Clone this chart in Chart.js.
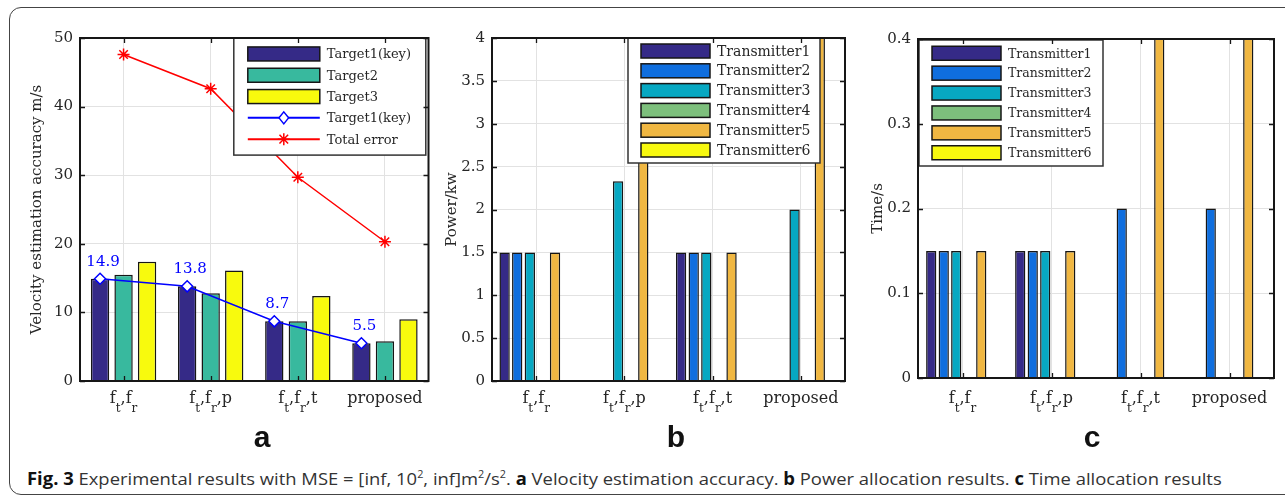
<!DOCTYPE html>
<html>
<head>
<meta charset="utf-8">
<script src="https://cdn.jsdelivr.net/npm/chart.js@4.4.1/dist/chart.umd.min.js"></script>
<style>
  body { margin: 0; background: #fff; width: 1285px; height: 497px; overflow: hidden; position: relative; }
  .frame { position: absolute; left: 9px; top: 7px; width: 1300px; height: 486px; border: 1.5px solid #444; border-radius: 12px; }
  canvas.panel { position: absolute; top: 22px; }
  .letter { position: absolute; top: 422px; font: bold 30px "Liberation Sans", Arial, sans-serif; line-height: 30px; color: #111; transform: translateX(-50%); }
  #caption { position: absolute; left: 27px; top: 470px; font: 17px "Open Sans", sans-serif; line-height: 17px; color: #333; white-space: nowrap; transform-origin: 0 0; }
  #caption b { color: #111; }
  #caption sup { font-size: 10px; line-height: 0; vertical-align: 7px; }
</style>
</head>
<body>
<div class="frame"></div>
<canvas id="chartA" class="panel" width="416" height="420" style="left:20px"></canvas>
<canvas id="chartB" class="panel" width="410" height="420" style="left:440px"></canvas>
<canvas id="chartC" class="panel" width="425" height="420" style="left:860px"></canvas>
<div class="letter" style="left:262px">a</div>
<div class="letter" style="left:676px">b</div>
<div class="letter" style="left:1092px">c</div>
<div id="caption"><b>Fig. 3</b> Experimental results with MSE = [inf, 10<sup>2</sup>, inf]m<sup>2</sup>/s<sup>2</sup>. <b>a</b> Velocity estimation accuracy. <b>b</b> Power allocation results. <b>c</b> Time allocation results</div>

<script>
// categories (an underscore marks a subscript letter)
const methods = ['f_t,f_r', 'f_t,f_r,p', 'f_t,f_r,t', 'proposed'];

// a: velocity estimation accuracy, m/s
const target1 = [14.9, 13.8, 8.7, 5.5];
const target2 = [15.5, 12.8, 8.7, 5.8];
const target3 = [17.4, 16.1, 12.4, 9.0];
const totalError = [47.6, 42.6, 29.7, 20.3];

// b: power allocation, kw (transmitter 5 runs past the top of the axis)
const powerT1 = [1.5, 0, 1.5, 0];
const powerT2 = [1.5, 0, 1.5, 0];
const powerT3 = [1.5, 2.33, 1.5, 2.0];
const powerT4 = [0, 0, 0, 0];
const powerT5 = [1.5, 4.5, 1.5, 4.5];
const powerT6 = [0, 0, 0, 0];

// c: time allocation, s
const timeT1 = [0.15, 0.15, 0, 0];
const timeT2 = [0.15, 0.15, 0.2, 0.2];
const timeT3 = [0.15, 0.15, 0, 0];
const timeT4 = [0, 0, 0, 0];
const timeT5 = [0.15, 0.15, 0.5, 0.5];
const timeT6 = [0, 0, 0, 0];

const SERIF = '"DejaVu Serif", "Liberation Serif", serif';
const INK = '#262626';
const GRID = '#e2e2e2';
const EDGE = '#161616';
const TX_COLORS = ['#352a87', '#0f6ede', '#07a8c2', '#7dbf7c', '#f0b742', '#f8f90f'];

function drawMarker(ctx, style, x, y, r, color) {
  ctx.save();
  ctx.strokeStyle = color;
  ctx.lineWidth = 1.5;
  ctx.beginPath();
  if (style === 'star') {
    const d = r * 0.72;
    ctx.moveTo(x - r, y); ctx.lineTo(x + r, y);
    ctx.moveTo(x, y - r); ctx.lineTo(x, y + r);
    ctx.moveTo(x - d, y - d); ctx.lineTo(x + d, y + d);
    ctx.moveTo(x - d, y + d); ctx.lineTo(x + d, y - d);
    ctx.stroke();
  } else {
    ctx.moveTo(x, y - r); ctx.lineTo(x + r * 0.8, y); ctx.lineTo(x, y + r); ctx.lineTo(x - r * 0.8, y); ctx.closePath();
    ctx.fillStyle = '#fff'; ctx.fill(); ctx.stroke();
  }
  ctx.restore();
}

function drawSubLabel(ctx, label, cx, baseline, size) {
  const parts = [];
  label.split(/(_\w)/).forEach(p => {
    if (!p) return;
    parts.push(p[0] === '_' ? { t: p.slice(1), sub: true } : { t: p, sub: false });
  });
  const main = size + 'px ' + SERIF, small = Math.round(size * 0.72) + 'px ' + SERIF;
  let w = 0;
  parts.forEach(p => { ctx.font = p.sub ? small : main; p.w = ctx.measureText(p.t).width; w += p.w; });
  let x = cx - w / 2;
  ctx.textAlign = 'left';
  ctx.textBaseline = 'alphabetic';
  parts.forEach(p => {
    ctx.font = p.sub ? small : main;
    ctx.fillText(p.t, x, baseline + (p.sub ? size * 0.55 : 0));
    x += p.w;
  });
}

// MATLAB-like box, inward ticks and subscripted category labels
const matlabAxes = {
  id: 'matlabAxes',
  afterDraw(chart, args, opts) {
    const { ctx, chartArea: ca, scales: { x, y } } = chart;
    ctx.save();
    ctx.strokeStyle = EDGE;
    ctx.lineWidth = 1.3;
    ctx.beginPath();
    y.ticks.forEach((t, i) => {
      const py = Math.round(y.getPixelForTick(i)) + 0.5;
      ctx.moveTo(ca.left, py); ctx.lineTo(ca.left + 5, py);
      ctx.moveTo(ca.right - 5, py); ctx.lineTo(ca.right, py);
    });
    x.ticks.forEach((t, i) => {
      const px = Math.round(x.getPixelForTick(i)) + 0.5;
      ctx.moveTo(px, ca.bottom); ctx.lineTo(px, ca.bottom - 5);
      ctx.moveTo(px, ca.top); ctx.lineTo(px, ca.top + 5);
    });
    ctx.stroke();
    ctx.lineWidth = 2;
    ctx.strokeRect(ca.left, ca.top, ca.width, ca.height);
    ctx.fillStyle = INK;
    chart.data.labels.forEach((lab, i) => {
      drawSubLabel(ctx, lab, x.getPixelForTick(i), ca.bottom + opts.labelGap, 16);
    });
    ctx.restore();
  }
};

// boxed legend inside the plot area
const boxLegend = {
  id: 'boxLegend',
  afterDatasetsDraw(chart, args, o) {
    const { ctx, chartArea: ca } = chart;
    const items = chart.data.datasets;
    const h = o.pad * 2 + items.length * o.row;
    const x = o.align === 'right' ? ca.right - o.dx - o.width : ca.left + o.dx;
    const y = ca.top + o.dy;
    ctx.save();
    ctx.fillStyle = '#fff';
    ctx.fillRect(x, y, o.width, h);
    ctx.strokeStyle = '#333';
    ctx.lineWidth = 1.5;
    ctx.strokeRect(x, y, o.width, h);
    ctx.font = o.fontSize + 'px ' + SERIF;
    ctx.textBaseline = 'middle';
    ctx.textAlign = 'left';
    items.forEach((ds, i) => {
      const cy = y + o.pad + o.row * (i + 0.5);
      const sx = x + o.swatchX;
      if (ds.type === 'line') {
        ctx.strokeStyle = ds.borderColor;
        ctx.lineWidth = 2;
        ctx.beginPath(); ctx.moveTo(sx, cy); ctx.lineTo(sx + o.swatchW, cy); ctx.stroke();
        drawMarker(ctx, ds.pointStyle, sx + o.swatchW / 2, cy, 6, ds.borderColor);
      } else {
        ctx.fillStyle = ds.backgroundColor;
        ctx.fillRect(sx, cy - o.swatchH / 2, o.swatchW, o.swatchH);
        ctx.strokeStyle = EDGE;
        ctx.lineWidth = 1.5;
        ctx.strokeRect(sx, cy - o.swatchH / 2, o.swatchW, o.swatchH);
      }
      ctx.fillStyle = INK;
      ctx.fillText(ds.label, sx + o.swatchW + o.gap, cy + 1);
    });
    ctx.restore();
  }
};

// key-target line sits on the first bar of each group, with value labels above
const keyLine = {
  id: 'keyLine',
  afterDatasetsUpdate(chart) {
    const bars = chart.getDatasetMeta(0).data;
    chart.getDatasetMeta(3).data.forEach((pt, i) => { pt.x = bars[i].x; });
  },
  afterDatasetsDraw(chart) {
    const { ctx } = chart;
    const ds = chart.data.datasets[3];
    ctx.save();
    ctx.font = '15px ' + SERIF;
    ctx.fillStyle = '#0000ff';
    ctx.textAlign = 'center';
    ctx.textBaseline = 'alphabetic';
    chart.getDatasetMeta(3).data.forEach((pt, i) => {
      ctx.fillText(ds.data[i].toFixed(1), pt.x + 3, pt.y - 13);
    });
    ctx.restore();
  }
};

function axes(max, step, title, yWidth, titlePad) {
  return {
    x: {
      grid: { offset: false, color: GRID, drawTicks: false },
      border: { display: false },
      ticks: { display: false },
      afterFit(s) { s.height = 40; }
    },
    y: {
      min: 0, max: max,
      ticks: { stepSize: step, padding: 7, color: INK, font: { family: SERIF, size: 15 },
        callback: v => String(+v.toFixed(2)) },
      grid: { color: GRID, drawTicks: false },
      border: { display: false },
      title: { display: true, text: title, color: INK, font: { family: SERIF, size: 15 }, padding: { top: titlePad, bottom: 0 } },
      afterFit(s) { s.width = yWidth; }
    }
  };
}

function bar(label, data, color) {
  return { label, data, backgroundColor: color, borderColor: EDGE, borderWidth: 1.5, order: 1 };
}

Chart.defaults.animation = false;

new Chart(document.getElementById('chartA'), {
  type: 'bar',
  data: {
    labels: methods,
    datasets: [
      bar('Target1(key)', target1, '#352a87'),
      bar('Target2', target2, '#38b99e'),
      bar('Target3', target3, '#f8fa0d'),
      { type: 'line', label: 'Target1(key)', data: target1, borderColor: '#0000ff', borderWidth: 1.5,
        pointStyle: 'rectRot', pointRadius: 5.5, pointBackgroundColor: '#fff', pointBorderColor: '#0000ff', pointBorderWidth: 1.5, order: 0 },
      { type: 'line', label: 'Total error', data: totalError, borderColor: '#ff0000', borderWidth: 1.5,
        pointStyle: 'star', pointRadius: 6, pointBorderColor: '#ff0000', pointBorderWidth: 1.5, order: 0 }
    ]
  },
  options: {
    responsive: false,
    devicePixelRatio: 1,
    categoryPercentage: 0.81,
    barPercentage: 0.78,
    layout: { padding: { left: 0, top: 10, right: 4, bottom: 21 } },
    scales: axes(50, 10, 'Velocity estimation accuracy m/s', 60, 8),
    plugins: {
      legend: { display: false }, tooltip: { enabled: false },
      matlabAxes: { labelGap: 22 },
      boxLegend: { align: 'right', dx: 2.7, dy: 0, width: 192, pad: 5.3, row: 21.3, swatchX: 14, swatchW: 72, swatchH: 14, gap: 7, fontSize: 13 }
    }
  },
  plugins: [keyLine, boxLegend, matlabAxes]
});

const txLabels = ['Transmitter1', 'Transmitter2', 'Transmitter3', 'Transmitter4', 'Transmitter5', 'Transmitter6'];

new Chart(document.getElementById('chartB'), {
  type: 'bar',
  data: {
    labels: methods,
    datasets: [powerT1, powerT2, powerT3, powerT4, powerT5, powerT6].map((d, i) => bar(txLabels[i], d, TX_COLORS[i]))
  },
  options: {
    responsive: false,
    devicePixelRatio: 1,
    categoryPercentage: 0.857,
    barPercentage: 0.82,
    layout: { padding: { left: 0, top: 10, right: 5, bottom: 21 } },
    scales: axes(4, 0.5, 'Power/kw', 52, 3),
    plugins: {
      legend: { display: false }, tooltip: { enabled: false },
      matlabAxes: { labelGap: 22 },
      boxLegend: { align: 'right', dx: 25, dy: 0, width: 192, pad: 3.1, row: 19.8, swatchX: 13, swatchW: 69, swatchH: 14, gap: 7, fontSize: 14 }
    }
  },
  plugins: [boxLegend, matlabAxes]
});

new Chart(document.getElementById('chartC'), {
  type: 'bar',
  data: {
    labels: methods,
    datasets: [timeT1, timeT2, timeT3, timeT4, timeT5, timeT6].map((d, i) => bar(txLabels[i], d, TX_COLORS[i]))
  },
  options: {
    responsive: false,
    devicePixelRatio: 1,
    categoryPercentage: 0.843,
    barPercentage: 0.82,
    layout: { padding: { left: 0, top: 17, right: 11, bottom: 24 } },
    scales: axes(0.4, 0.1, 'Time/s', 58, 9),
    plugins: {
      legend: { display: false }, tooltip: { enabled: false },
      matlabAxes: { labelGap: 25 },
      boxLegend: { align: 'left', dx: 1, dy: 1, width: 184, pad: 3.3, row: 19.9, swatchX: 13, swatchW: 69, swatchH: 14, gap: 7, fontSize: 12.5 }
    }
  },
  plugins: [boxLegend, matlabAxes]
});

// stretch the caption to the reference line length
const cap = document.getElementById('caption');
cap.style.transform = 'scaleX(' + (1195 / cap.scrollWidth) + ')';
</script>
</body>
</html>
